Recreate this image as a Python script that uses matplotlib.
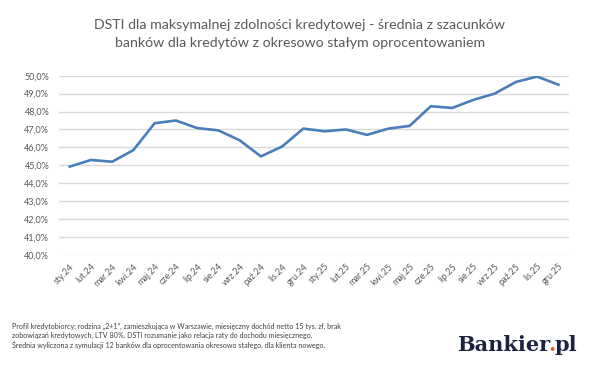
import matplotlib
matplotlib.use("Agg")
import matplotlib.pyplot as plt

months = ["sty.24", "lut.24", "mar.24", "kwi.24", "maj.24", "cze.24", "lip.24", "sie.24",
          "wrz.24", "paź.24", "lis.24", "gru.24", "sty.25", "lut.25", "mar.25", "kwi.25",
          "maj.25", "cze.25", "lip.25", "sie.25", "wrz.25", "paź.25", "lis.25", "gru.25"]
dsti = [44.93, 45.3, 45.2, 45.85, 47.35, 47.5, 47.08, 46.95,
        46.4, 45.5, 46.05, 47.05, 46.9, 47.0, 46.7, 47.05,
        47.2, 48.3, 48.2, 48.65, 49.0, 49.65, 49.95, 49.5]
y_ticks = [40, 41, 42, 43, 44, 45, 46, 47, 48, 49, 50]

title = ("DSTI dla maksymalnej zdolności kredytowej - średnia z szacunków\n"
         "banków dla kredytów z okresowo stałym oprocentowaniem")
footnote = ("Profil kredytobiorcy: rodzina \u201e2+1\u201d, zamieszkująca w Warszawie, miesięczny dochód netto 15 tys. zł, brak\n"
            "zobowiązań kredytowych, LTV 80%. DSTI rozumanie jako relacja raty do dochodu miesięcznego.\n"
            "Średnia wyliczona z symulacji 12 banków dla oprocentowania okresowo stałego, dla klienta nowego.")

plt.rcParams["font.family"] = ["Lato", "DejaVu Sans"]

fig = plt.figure(figsize=(6, 3.73), dpi=100)
ax = fig.add_axes([59 / 600, 1 - 255 / 373, 510 / 600, (255 - 75.7) / 373])

x = list(range(len(months)))
ax.plot(x, dsti, color="#4a7ebb", linewidth=1.9, solid_joinstyle="round", zorder=3)

ax.set_xlim(-0.5, len(months) - 0.5)
ax.set_ylim(40, 50)
ax.set_yticks(y_ticks)
ax.set_yticklabels([f"{v:.1f}%".replace(".", ",") for v in y_ticks])
ax.set_xticks(x)
ax.set_xticklabels(months, rotation=45, ha="right", va="top", rotation_mode="anchor")
ax.tick_params(axis="both", length=0, labelsize=6.5, colors="#595959")
ax.tick_params(axis="y", pad=7)
ax.tick_params(axis="x", pad=5)
ax.grid(axis="y", color="#d9d9d9", linewidth=1.0)
ax.set_axisbelow(True)
for s in ax.spines.values():
    s.set_visible(False)

fig.text(0.5, 1 - 34 / 373, title, ha="center", va="center", fontsize=10.2,
         color="#595959", linespacing=1.6)

fig.text(12 / 600, 1 - 336 / 373, footnote, ha="left", va="center", fontsize=5.1,
         color="#404040", linespacing=1.3)

# logo: "Bankier" + orange dot + "pl", placed one after another
r = fig.canvas.get_renderer()
inv = fig.transFigure.inverted()
logo_kw = dict(ha="left", va="baseline", fontsize=15, family="DejaVu Serif", weight="bold")
x0, base = 457 / 600, 1 - 351 / 373
for part, col in [("Bankier", "#1c2340"), (".", "#e8632b"), ("pl", "#1c2340")]:
    t = fig.text(x0, base, part, color=col, **logo_kw)
    bb = t.get_window_extent(renderer=r)
    x0 = inv.transform((bb.x1 - 1.5, 0))[0]

fig.savefig("out.png", dpi=100)
